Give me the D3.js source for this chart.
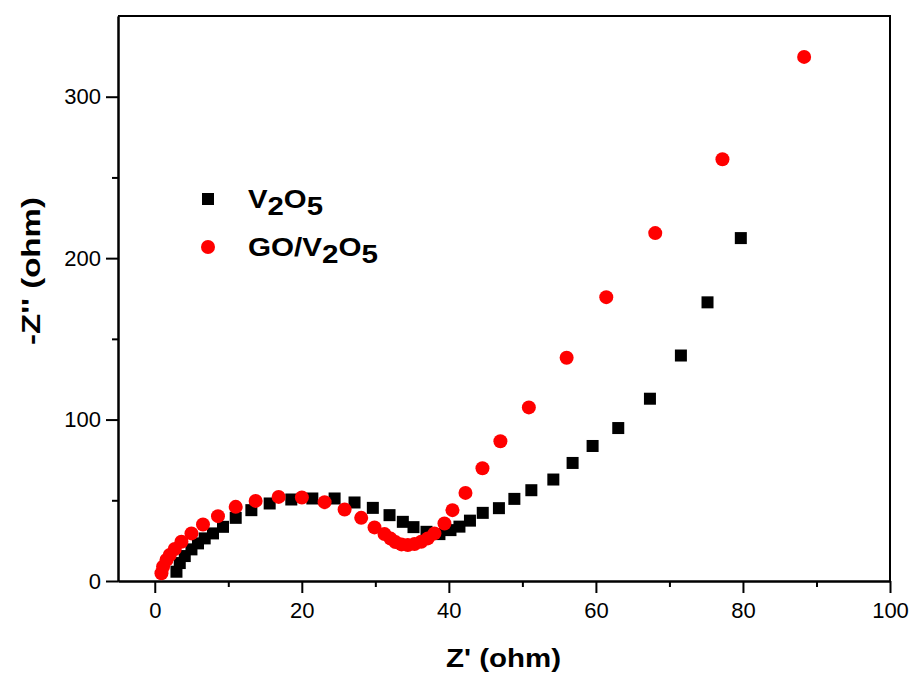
<html>
	<head>
		<title>Nyquist plot | V2O5 vs GO/V2O5</title>
		<script src="https://d3js.org/d3.v7.min.js" charset="utf-8"></script>
		<style>
		body {
			margin: 0;
			background: white;
			font-family: "Liberation Sans", Arial, sans-serif;
			}
		.axis path, .axis line {
			stroke: #000;
			stroke-width: 2;
			}
		.title {
			font-family: "Liberation Sans", Arial, sans-serif;
			font-weight: bold;
			font-size: 26px;
			}
		</style>
	</head>
	<body>
		<script>
		// V2O5 points (Z' real part, -Z'' imaginary part), in ohm
		var v2o5Re = [2.95, 3.40, 4.08, 4.99, 5.88, 6.79, 7.92, 9.28, 11.01, 13.14, 15.63, 18.57, 21.43, 24.46,
			27.17, 29.66, 31.93, 33.74, 35.19, 36.96, 38.72, 40.22, 41.44, 42.87, 44.61, 46.81, 48.91,
			51.22, 54.21, 56.83, 59.55, 63.04, 67.35, 71.56, 75.18, 79.71];
		var v2o5Im = [5.75, 11.12, 15.45, 19.59, 23.30, 26.39, 29.48, 33.56, 39.12, 43.88, 48.02, 50.49, 51.11, 51.11,
			48.64, 45.30, 40.79, 36.65, 33.37, 30.47, 29.05, 31.52, 33.68, 37.39, 42.21, 45.12, 50.87,
			56.24, 62.86, 73.13, 83.64, 94.75, 112.92, 139.68, 172.62, 212.42];

		// GO/V2O5 points
		var goRe = [0.91, 1.13, 1.59, 2.04, 2.72, 3.63, 4.99, 6.56, 8.60, 11.01, 13.72, 16.85, 20.01, 23.10,
			25.82, 28.08, 29.89, 31.25, 32.07, 32.74, 33.56, 34.42, 35.33, 36.24, 37.13, 38.04, 39.40,
			40.49, 42.26, 44.57, 47.01, 50.88, 56.02, 61.41, 68.07, 77.21, 88.32];
		var goIm = [4.76, 8.84, 12.98, 16.07, 19.78, 24.29, 29.48, 35.04, 40.17, 45.92, 49.63, 52.10, 51.73, 48.83,
			44.31, 39.12, 33.19, 29.05, 26.27, 24.10, 22.68, 22.25, 22.87, 24.29, 26.39, 29.48, 35.66,
			43.88, 54.57, 69.84, 86.53, 107.54, 138.26, 175.83, 215.51, 261.25, 324.66];

		// tick values
		var xMajor = [0, 20, 40, 60, 80, 100];
		var xMinor = [10, 30, 50, 70, 90];
		var yMajor = [0, 100, 200, 300];
		var yMinor = [50, 150, 250];

		var width = 912;
		var height = 674;
		var plotLeft = 118, plotRight = 890, plotTop = 16, plotBottom = 581;

		var svg = d3.select("body")
			.append("svg")
			.attr("width", width)
			.attr("height", height);

		svg.append("rect").attr("width", width).attr("height", height).attr("fill", "white");

		var x = d3.scaleLinear().domain([-5, 100]).range([plotLeft, plotRight]);
		var y = d3.scaleLinear().domain([0, 350]).range([plotBottom, plotTop]);

		// frame on top and right
		svg.append("path")
			.attr("d", "M" + plotLeft + "," + plotTop + "H" + plotRight + "V" + plotBottom)
			.attr("fill", "none")
			.attr("stroke", "#000")
			.attr("stroke-width", 2);

		// x axis, major then minor
		var gx = svg.append("g")
			.attr("class", "axis")
			.attr("transform", "translate(0," + plotBottom + ")")
			.call(d3.axisBottom(x).tickValues(xMajor).tickSize(12).tickSizeOuter(0).tickPadding(9));
		svg.append("g")
			.attr("class", "axis")
			.attr("transform", "translate(0," + plotBottom + ")")
			.call(d3.axisBottom(x).tickValues(xMinor).tickSize(6).tickSizeOuter(0).tickFormat(""));

		// y axis
		var gy = svg.append("g")
			.attr("class", "axis")
			.attr("transform", "translate(" + plotLeft + ",0)")
			.call(d3.axisLeft(y).tickValues(yMajor).tickSize(12).tickSizeOuter(0).tickPadding(5));
		svg.append("g")
			.attr("class", "axis")
			.attr("transform", "translate(" + plotLeft + ",0)")
			.call(d3.axisLeft(y).tickValues(yMinor).tickSize(6).tickSizeOuter(0).tickFormat(""));

		// tick label font like the original
		gx.attr("font-size", 22).attr("font-family", "Liberation Sans, Arial, sans-serif");
		gy.attr("font-size", 22).attr("font-family", "Liberation Sans, Arial, sans-serif");
		gx.selectAll(".tick text").attr("fill", "#000");
		gy.selectAll(".tick text").attr("fill", "#000");

		// axis titles
		svg.append("text")
			.attr("class", "title")
			.attr("x", 446)
			.attr("y", 667)
			.attr("textLength", 115)
			.attr("lengthAdjust", "spacingAndGlyphs")
			.text("Z' (ohm)");

		svg.append("text")
			.attr("class", "title")
			.attr("transform", "translate(40,345) rotate(-90)")
			.attr("textLength", 148)
			.attr("lengthAdjust", "spacingAndGlyphs")
			.text("-Z'' (ohm)");

		// V2O5 squares
		var sq = 12;
		svg.append("g").selectAll("rect")
			.data(v2o5Re)
			.enter()
			.append("rect")
			.attr("x", function(d) { return x(d) - sq / 2; })
			.attr("y", function(d, i) { return y(v2o5Im[i]) - sq / 2; })
			.attr("width", sq)
			.attr("height", sq)
			.attr("fill", "#000");

		// GO/V2O5 circles
		svg.append("g").selectAll("circle")
			.data(goRe)
			.enter()
			.append("circle")
			.attr("cx", function(d) { return x(d); })
			.attr("cy", function(d, i) { return y(goIm[i]); })
			.attr("r", 7)
			.attr("fill", "#ff0000");

		// legend
		svg.append("rect").attr("x", 202).attr("y", 193).attr("width", sq).attr("height", sq).attr("fill", "#000");
		svg.append("circle").attr("cx", 208).attr("cy", 247).attr("r", 7).attr("fill", "#ff0000");

		var l1 = svg.append("text").attr("class", "title").style("font-size", "26px")
			.attr("x", 248).attr("y", 208)
			.attr("textLength", 75).attr("lengthAdjust", "spacingAndGlyphs");
		l1.append("tspan").text("V");
		l1.append("tspan").attr("dy", 7).text("2");
		l1.append("tspan").attr("dy", -7).text("O");
		l1.append("tspan").attr("dy", 7).text("5");

		var l2 = svg.append("text").attr("class", "title").style("font-size", "26px")
			.attr("x", 248).attr("y", 256)
			.attr("textLength", 130).attr("lengthAdjust", "spacingAndGlyphs");
		l2.append("tspan").text("GO/V");
		l2.append("tspan").attr("dy", 7).text("2");
		l2.append("tspan").attr("dy", -7).text("O");
		l2.append("tspan").attr("dy", 7).text("5");
		</script>
	</body>
</html>
